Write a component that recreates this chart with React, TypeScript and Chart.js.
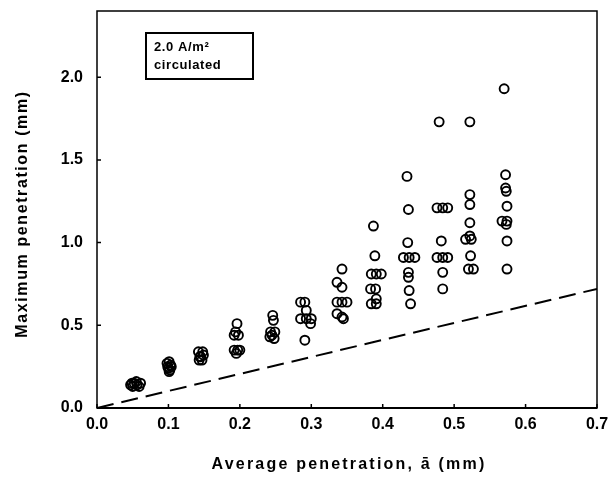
import React, { useEffect, useRef } from "react";
import { Chart, registerables } from "chart.js";

Chart.register(...registerables);

// Average penetration (x) and maximum penetration (y), mm
const avgPenetration = [
  0.047, 0.052, 0.056, 0.061, 0.050, 0.055, 0.059, 0.049,
  0.098, 0.101, 0.103, 0.100, 0.102, 0.099, 0.104, 0.101,
  0.142, 0.148, 0.144, 0.149, 0.143, 0.147, 0.145,
  0.196, 0.194, 0.198, 0.192, 0.197, 0.192, 0.200, 0.195,
  0.246, 0.247, 0.243, 0.249, 0.245, 0.242, 0.248,
  0.285, 0.291, 0.293, 0.285, 0.293, 0.300, 0.299, 0.291,
  0.343, 0.336, 0.343, 0.336, 0.343, 0.350, 0.336, 0.343, 0.345,
  0.387, 0.389, 0.384, 0.391, 0.398, 0.383, 0.390, 0.391, 0.384, 0.391,
  0.434, 0.436, 0.435, 0.429, 0.437, 0.445, 0.436, 0.436, 0.437, 0.439,
  0.479, 0.476, 0.484, 0.491, 0.482, 0.476, 0.484, 0.491, 0.484, 0.484,
  0.522, 0.522, 0.522, 0.522, 0.516, 0.524, 0.522, 0.523, 0.520, 0.527,
  0.570, 0.572, 0.572, 0.573, 0.574, 0.567, 0.574, 0.573, 0.574, 0.574,
];
const maxPenetration = [
  0.14, 0.15, 0.14, 0.15, 0.13, 0.16, 0.13, 0.15,
  0.27, 0.28, 0.26, 0.24, 0.23, 0.25, 0.25, 0.22,
  0.34, 0.34, 0.31, 0.32, 0.29, 0.29, 0.31,
  0.51, 0.46, 0.44, 0.44, 0.35, 0.35, 0.35, 0.33,
  0.56, 0.53, 0.46, 0.46, 0.44, 0.43, 0.42,
  0.64, 0.64, 0.59, 0.54, 0.54, 0.54, 0.51, 0.41,
  0.84, 0.76, 0.73, 0.64, 0.64, 0.64, 0.57, 0.55, 0.54,
  1.10, 0.92, 0.81, 0.81, 0.81, 0.72, 0.72, 0.66, 0.63, 0.63,
  1.40, 1.20, 1.00, 0.91, 0.91, 0.91, 0.82, 0.79, 0.71, 0.63,
  1.73, 1.21, 1.21, 1.21, 1.01, 0.91, 0.91, 0.91, 0.82, 0.72,
  1.73, 1.29, 1.23, 1.12, 1.02, 1.02, 1.04, 0.92, 0.84, 0.84,
  1.93, 1.41, 1.33, 1.31, 1.22, 1.13, 1.13, 1.11, 1.01, 0.84,
];
// Reference line (max = average)
const refLineX = [0, 0.7];
const refLineY = [0, 0.72];

const xTicks = [0, 0.1, 0.2, 0.3, 0.4, 0.5, 0.6, 0.7];
const yTicks = [0, 0.5, 1.0, 1.5, 2.0];
const xTitle = "Average penetration, ā (mm)";
const yTitle = "Maximum penetration (mm)";
const boxLine1 = "2.0 A/m²";
const boxLine2 = "circulated";

const framePlugin = {
  id: "frame",
  afterDraw(chart: any) {
    const { ctx, chartArea: a, scales } = chart;
    ctx.save();
    ctx.strokeStyle = "#000";
    ctx.lineWidth = 1.5;
    ctx.strokeRect(a.left, a.top, a.right - a.left, a.bottom - a.top);
    ctx.lineWidth = 2;
    ctx.beginPath();
    ctx.moveTo(a.left, a.bottom);
    ctx.lineTo(a.right, a.bottom);
    ctx.stroke();
    // inward ticks
    ctx.lineWidth = 1.5;
    ctx.beginPath();
    xTicks.forEach((v) => {
      const px = scales.x.getPixelForValue(v);
      ctx.moveTo(px, a.bottom);
      ctx.lineTo(px, a.bottom - 4);
    });
    yTicks.forEach((v) => {
      const py = scales.y.getPixelForValue(v);
      ctx.moveTo(a.left, py);
      ctx.lineTo(a.left + 4, py);
    });
    ctx.stroke();

    // annotation box
    const bx = a.left + 49;
    const by = a.top + 22;
    ctx.lineWidth = 2;
    ctx.strokeRect(bx, by, 107, 46);
    ctx.fillStyle = "#000";
    ctx.font = "bold 13px 'Liberation Sans', Arial, sans-serif";
    ctx.textAlign = "left";
    ctx.textBaseline = "middle";
    (ctx as any).letterSpacing = "0.6px";
    ctx.fillText(boxLine1, bx + 8, by + 14);
    ctx.fillText(boxLine2, bx + 8, by + 32);

    // axis titles
    ctx.font = "bold 16px 'Liberation Sans', Arial, sans-serif";
    (ctx as any).letterSpacing = "2.2px";
    ctx.textAlign = "center";
    ctx.fillText(xTitle, (a.left + a.right) / 2 + 2, 465);
    ctx.translate(23, 214);
    ctx.rotate(-Math.PI / 2);
    (ctx as any).letterSpacing = "1.6px";
    ctx.fillText(yTitle, 0, 0);
    ctx.restore();
  },
};

export default function App() {
  const ref = useRef<HTMLCanvasElement | null>(null);
  useEffect(() => {
    document.body.style.margin = "0";
    const canvas = ref.current;
    if (!canvas) return;
    const points = avgPenetration.map((x, i) => ({ x, y: maxPenetration[i] }));
    const line = refLineX.map((x, i) => ({ x, y: refLineY[i] }));
    const tickFont = { family: "'Liberation Sans', Arial, sans-serif", size: 16, weight: "bold" as const };
    const chart = new Chart(canvas, {
      type: "scatter",
      data: {
        datasets: [
          {
            data: points,
            pointStyle: "circle",
            pointRadius: 4.5,
            pointBorderWidth: 1.9,
            borderColor: "#000",
            backgroundColor: "rgba(0,0,0,0)",
            showLine: false,
          } as any,
          {
            data: line,
            showLine: true,
            borderColor: "#000",
            borderWidth: 2,
            borderDash: [17, 8],
            pointRadius: 0,
            fill: false,
          } as any,
        ],
      },
      options: {
        responsive: false,
        animation: false,
        layout: { padding: { top: 11, right: 11, left: 0, bottom: 0 } },
        plugins: { legend: { display: false }, tooltip: { enabled: false } },
        scales: {
          x: {
            type: "linear",
            min: 0,
            max: 0.7,
            afterBuildTicks: (s: any) => {
              s.ticks = xTicks.map((value) => ({ value }));
            },
            afterFit: (s: any) => {
              s.height = 73;
              s.paddingLeft = 0;
              s.paddingRight = 0;
            },
            grid: { display: false, drawTicks: false },
            border: { display: false },
            ticks: {
              color: "#000",
              font: tickFont,
              padding: 7,
              maxRotation: 0,
              callback: (v: any) => Number(v).toFixed(1),
            },
          },
          y: {
            type: "linear",
            min: 0,
            max: 2.4,
            afterBuildTicks: (s: any) => {
              s.ticks = yTicks.map((value) => ({ value }));
            },
            afterFit: (s: any) => {
              s.width = 97;
              s.paddingTop = 0;
              s.paddingBottom = 0;
            },
            grid: { display: false, drawTicks: false },
            border: { display: false },
            ticks: {
              color: "#000",
              font: tickFont,
              padding: 14,
              callback: (v: any) => Number(v).toFixed(1),
            },
          },
        },
      },
      plugins: [framePlugin],
    });
    return () => chart.destroy();
  }, []);
  return (
    <div style={{ width: 608, height: 481, background: "#fff" }}>
      <canvas ref={ref} width={608} height={481} />
    </div>
  );
}
